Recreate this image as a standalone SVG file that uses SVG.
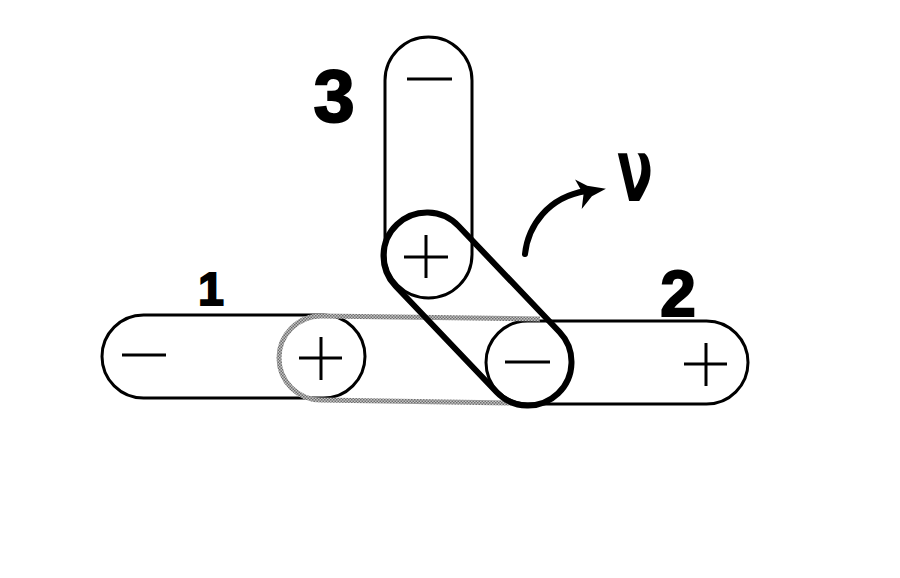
<svg xmlns="http://www.w3.org/2000/svg" width="900" height="578" viewBox="0 0 900 578">
  <defs>
    <pattern id="halftone" width="3" height="3" patternUnits="userSpaceOnUse">
      <rect width="3" height="3" fill="#c4c4c4"/>
      <rect width="1.5" height="1.5" fill="#6e6e6e"/>
      <rect x="1.5" y="1.5" width="1.5" height="1.5" fill="#6e6e6e"/>
    </pattern>
    <marker id="head" markerUnits="userSpaceOnUse" markerWidth="44" markerHeight="44" viewBox="-12 -22 44 44" refX="0" refY="0" orient="auto">
      <path d="M-9,-13 L2,-5 L20,1 L5,6 L-7,17 L-3,3 Z" fill="#000"/>
    </marker>
  </defs>
  <style>
    .thin { fill: none; stroke: #000; stroke-width: 3; }
    .bold { fill: none; stroke: #000; stroke-width: 6; stroke-linejoin: round; }
    .grey { fill: none; stroke: url(#halftone); stroke-width: 5; }
    .sign { stroke: #000; stroke-width: 3; fill: none; stroke-linecap: butt; }
    .num { font-family: "Liberation Sans", Arial, sans-serif; font-weight: bold; fill: #000; stroke: #000; stroke-width: 2; text-anchor: middle; }
  </style>
  <rect width="900" height="578" fill="#fff"/>

  <g id="rod1">
    <rect class="thin" x="102" y="315" width="263" height="83" rx="41.5" ry="41.5"/>
    <line class="sign" x1="122" y1="355" x2="166" y2="355"/>
  </g>

  <g id="rod2">
    <rect class="thin" x="486" y="321" width="262" height="83" rx="41.5" ry="41.5"/>
    <line class="sign" x1="684" y1="364" x2="727" y2="364"/>
    <line class="sign" x1="706" y1="343" x2="706" y2="386"/>
  </g>

  <g id="rod3">
    <rect class="thin" x="385" y="37" width="87" height="261" rx="43.5" ry="43.5"/>
    <line class="sign" x1="407" y1="79" x2="452" y2="79"/>
  </g>

  <g id="connectors">
    <path id="grey-link" class="grey" d="M540,319 L321,316 A42,42 0 0 0 321,400 L515,403"/>
    <path id="bold-link" class="bold" d="M458.5,226 L559.5,332 A43.5,43.5 0 0 1 496.5,392 L395.5,286 A43.5,43.5 0 0 1 458.5,226 Z"/>
    <path id="rotation-arrow" d="M525,254 C528,226 548,197 586,191" fill="none" stroke="#000" stroke-width="6" stroke-linecap="round" marker-end="url(#head)"/>
  </g>

  <g id="end-plus-1">
    <line class="sign" x1="299" y1="358" x2="342" y2="358"/>
    <line class="sign" x1="321" y1="337" x2="321" y2="380"/>
  </g>
  <g id="end-plus-3">
    <line class="sign" x1="404" y1="257" x2="448" y2="257"/>
    <line class="sign" x1="426" y1="235" x2="426" y2="278"/>
  </g>
  <g id="end-minus-2">
    <line class="sign" x1="505" y1="362" x2="550" y2="362"/>
  </g>

  <g id="labels">
    <text class="num" x="211" y="305" font-size="46">1</text>
    <text class="num" x="678" y="316" font-size="64">2</text>
    <text class="num" x="334" y="122" font-size="74">3</text>
    <text transform="translate(635,201) scale(0.6,1)" font-family="DejaVu Sans, sans-serif" font-weight="bold" font-size="88" text-anchor="middle" fill="#000">ν</text>
  </g>
</svg>
